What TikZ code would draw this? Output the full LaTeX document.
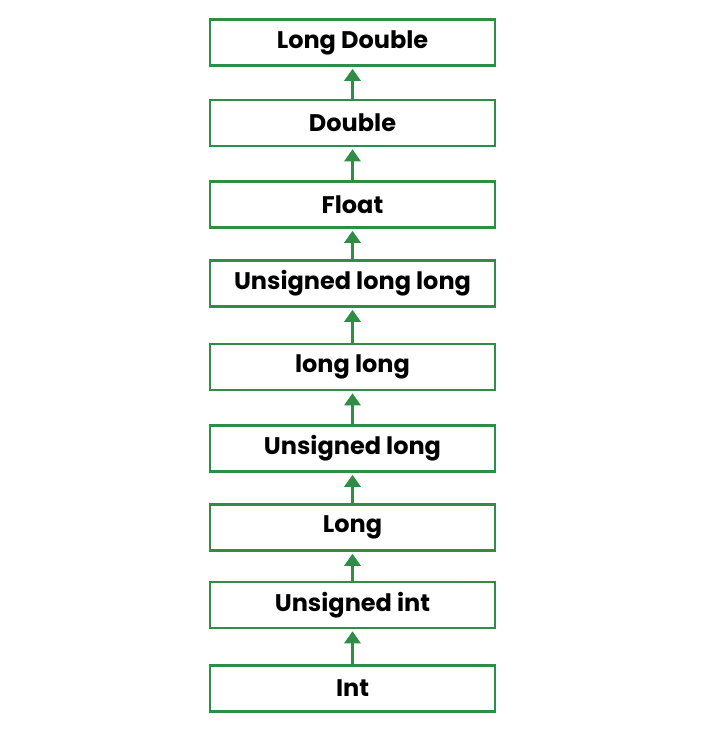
\documentclass[tikz,border=0pt]{standalone}
\usepackage{fontspec}
\setmainfont{Poppins}[UprightFont=* SemiBold,BoldFont=* Bold]
\usepackage{tikz}
\usetikzlibrary{arrows.meta}
\definecolor{gfgreen}{RGB}{47,141,70}

\begin{document}
\begin{tikzpicture}[x=1pt,y=1pt,
  typebox/.style={draw=gfgreen, line width=2.6pt, fill=white, minimum width=285pt,
    minimum height=46pt, inner sep=0pt, font=\fontsize{24}{28}\selectfont\bfseries},
  promote/.style={draw=gfgreen, line width=3pt, -{Triangle[width=16pt,length=12pt]}, shorten >=2pt}]
\useasboundingbox[fill=white] (0,0) rectangle (706,731);
\node[typebox] (ldouble) at (352.5,688.5) {Long Double};
\node[typebox] (double) at (352.5,608) {Double};
\node[typebox] (float) at (352.5,526.5) {Float};
\node[typebox] (ull) at (352.5,447.5) {Unsigned long long};
\node[typebox] (llong) at (352.5,364) {long long};
\node[typebox] (ulong) at (352.5,282.5) {Unsigned long};
\node[typebox] (long) at (352.5,203.5) {Long};
\node[typebox] (uint) at (352.5,126) {Unsigned int};
\node[typebox] (int) at (352.5,42.5) {Int};

\draw[promote] (int.north)--(uint.south);
\draw[promote] (uint.north)--(long.south);
\draw[promote] (long.north)--(ulong.south);
\draw[promote] (ulong.north)--(llong.south);
\draw[promote] (llong.north)--(ull.south);
\draw[promote] (ull.north)--(float.south);
\draw[promote] (float.north)--(double.south);
\draw[promote] (double.north)--(ldouble.south);
\end{tikzpicture}
\end{document}
